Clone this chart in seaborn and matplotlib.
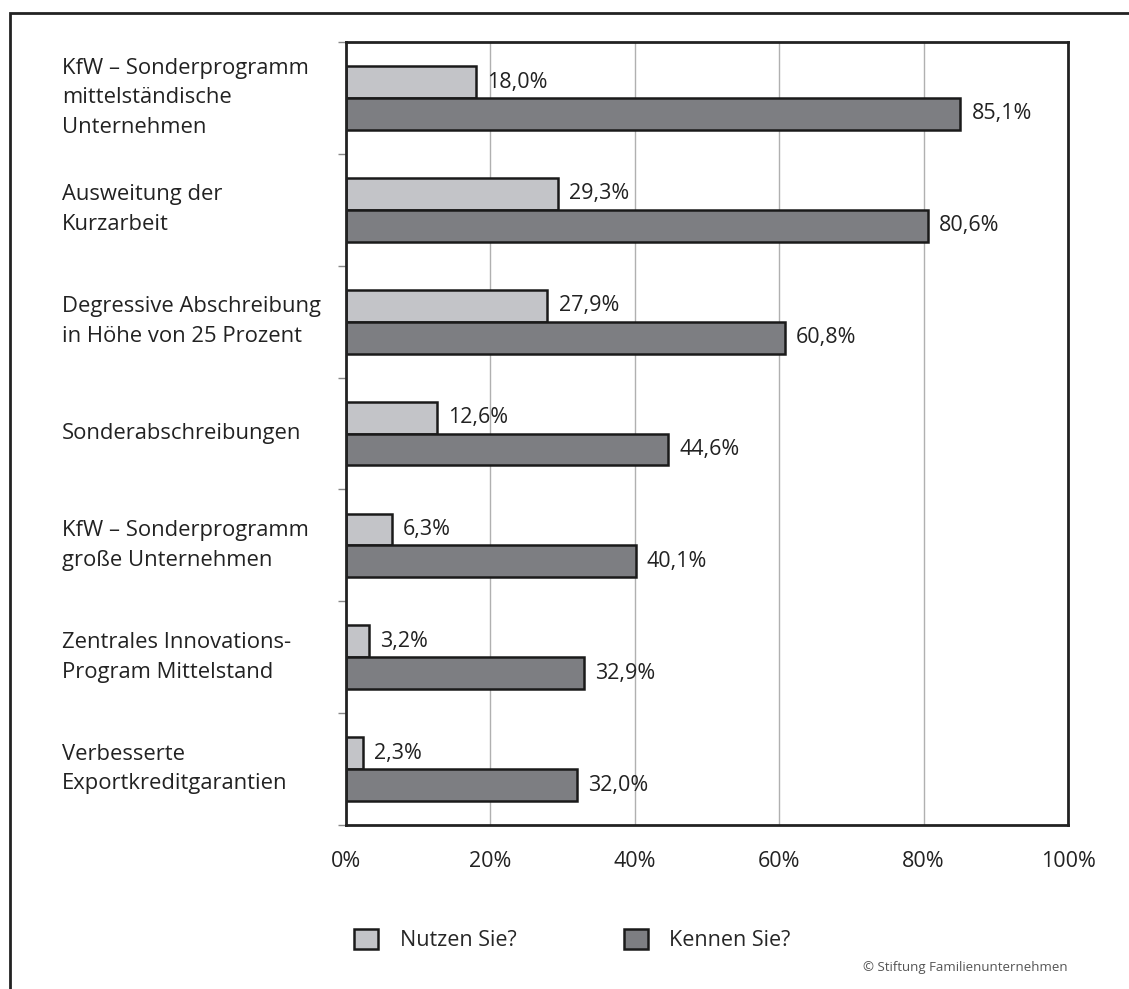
import matplotlib
matplotlib.use("Agg")
import matplotlib.pyplot as plt
import seaborn as sns
import pandas as pd
from matplotlib.patches import Rectangle
from matplotlib.transforms import blended_transform_factory

categories = [
    "KfW – Sonderprogramm\nmittelständische\nUnternehmen",
    "Ausweitung der\nKurzarbeit",
    "Degressive Abschreibung\nin Höhe von 25 Prozent",
    "Sonderabschreibungen",
    "KfW – Sonderprogramm\ngroße Unternehmen",
    "Zentrales Innovations-\nProgram Mittelstand",
    "Verbesserte\nExportkreditgarantien",
]
nutzen = [18.0, 29.3, 27.9, 12.6, 6.3, 3.2, 2.3]
kennen = [85.1, 80.6, 60.8, 44.6, 40.1, 32.9, 32.0]
series_names = ["Nutzen Sie?", "Kennen Sie?"]
x_ticks = [0, 20, 40, 60, 80, 100]

df = pd.DataFrame({
    "Kategorie": categories * 2,
    "Wert": nutzen + kennen,
    "Serie": [series_names[0]] * len(categories) + [series_names[1]] * len(categories),
})

sns.set_theme(style="white")
plt.rcParams["font.family"] = ["Open Sans", "DejaVu Sans"]

fig = plt.figure(figsize=(11.29, 9.89), dpi=100)
ax = fig.add_axes([0.3065, 0.1658, 0.6395, 0.7917])

palette = {"Nutzen Sie?": "#c3c4c8", "Kennen Sie?": "#7d7e82"}
sns.barplot(
    data=df, y="Kategorie", x="Wert", hue="Serie", palette=palette,
    orient="h", width=0.57, edgecolor="#1a1a1a", linewidth=1.8,
    saturation=1, ax=ax, legend=True,
)

ax.set_xlim(0, 100)
ax.set_ylim(len(categories) - 0.5, -0.5)
ax.set_xticks(x_ticks)
ax.set_xticklabels([f"{t}%" for t in x_ticks], fontsize=15.5, color="#222222")
ax.tick_params(axis="x", length=6, width=1, color="#aaaaaa", pad=13)
ax.xaxis.grid(True, color="#b0b0b0", linewidth=1)
ax.set_axisbelow(True)
ax.set_xlabel("")
ax.set_ylabel("")

# y ticks at category boundaries, labels as left aligned text
ax.set_yticks([i - 0.5 for i in range(len(categories) + 1)])
ax.set_yticklabels([])
ax.tick_params(axis="y", length=6, width=1, color="#888888", left=True)
label_tr = blended_transform_factory(fig.transFigure, ax.transData)
for i, cat in enumerate(categories):
    ax.text(62 / 1129, i, cat, transform=label_tr, ha="left", va="center",
            fontsize=15.8, color="#222222", linespacing=1.55)

for sp in ax.spines.values():
    sp.set_color("#222222")
    sp.set_linewidth(2)

for container in ax.containers:
    ax.bar_label(container, labels=[f"{v:.1f}%".replace(".", ",") for v in container.datavalues],
                 padding=8, fontsize=15.5, color="#222222")

handles, labels = ax.get_legend_handles_labels()
ax.get_legend().remove()
fig.legend(handles, labels, loc="center left", bbox_to_anchor=(335 / 1129, 1 - 940 / 989),
           ncol=2, frameon=False, fontsize=15.5, handlelength=1.1, handleheight=1.1,
           columnspacing=5.0, handletextpad=1.0)

fig.text(1068 / 1129, 1 - 968 / 989, "© Stiftung Familienunternehmen", ha="right", va="center",
         fontsize=9.5, color="#555555")

fig.patches.append(Rectangle((10 / 1129, -0.1), 1.2, 1 - 13 / 989 + 0.1, transform=fig.transFigure,
                             fill=False, edgecolor="#222222", linewidth=2))

fig.savefig("out.png", dpi=100)
